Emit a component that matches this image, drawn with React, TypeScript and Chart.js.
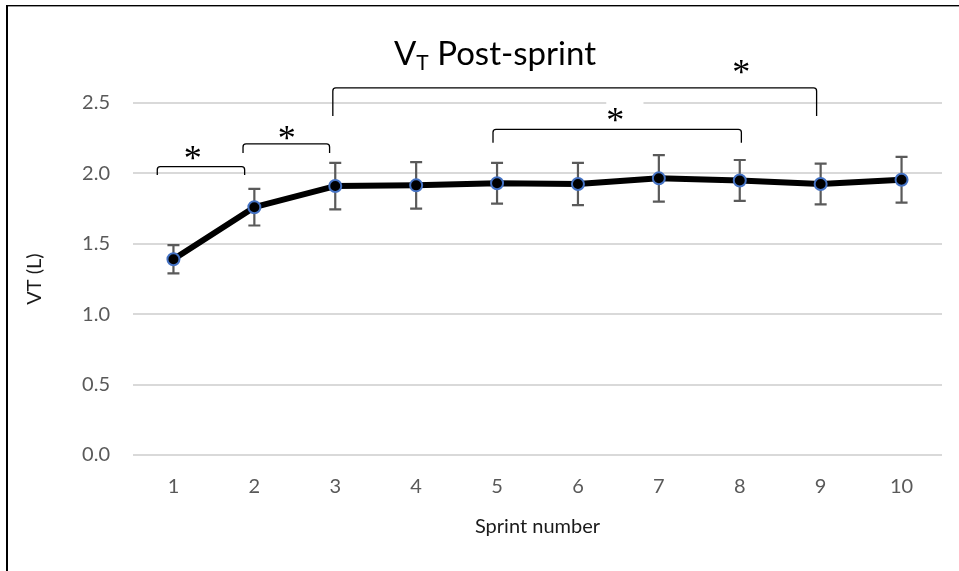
import React, { useEffect, useRef } from 'react';
import { Chart, registerables } from 'chart.js';

Chart.register(...registerables);

// ---- data ----
const sprintLabels = ['1', '2', '3', '4', '5', '6', '7', '8', '9', '10'];
const vtMean = [1.39, 1.76, 1.91, 1.915, 1.93, 1.925, 1.965, 1.95, 1.925, 1.955];
const vtSD = [0.1, 0.13, 0.165, 0.165, 0.145, 0.15, 0.165, 0.145, 0.145, 0.163];
const yMin = 0;
const yMax = 2.5;
const yStep = 0.5;

// ---- significance annotations (x in category-index units, y in litres) ----
const bracketFrom = [-0.2, 0.86, 1.97, 3.95];
const bracketTo = [0.88, 1.93, 7.95, 7.02];
const bracketTop = [2.048, 2.209, 2.607, 2.313];
const bracketEnd = [1.989, 2.145, 2.408, 2.218];
const starX = [0.24, 1.4, 7.02, 5.46];
const starY = [2.145, 2.289, 2.758, 2.415];
const maskFrom = 5.35;
const maskTo = 5.81;

const SANS = 'Lato, "Open Sans", sans-serif';

const errorBarPlugin = {
  id: 'errorBars',
  beforeDatasetsDraw(chart: any) {
    const { ctx, scales } = chart;
    const xs = scales.x;
    const ys = scales.y;
    ctx.save();
    ctx.strokeStyle = '#5a5a5a';
    ctx.lineWidth = 2.2;
    vtMean.forEach((m, i) => {
      const x = xs.getPixelForValue(i);
      const yt = ys.getPixelForValue(m + vtSD[i]);
      const yb = ys.getPixelForValue(m - vtSD[i]);
      ctx.beginPath();
      ctx.moveTo(x, yt);
      ctx.lineTo(x, yb);
      ctx.moveTo(x - 6, yt);
      ctx.lineTo(x + 6, yt);
      ctx.moveTo(x - 6, yb);
      ctx.lineTo(x + 6, yb);
      ctx.stroke();
    });
    ctx.restore();
  },
};

const decorPlugin = {
  id: 'decor',
  beforeDatasetsDraw(chart: any) {
    const { ctx, scales } = chart;
    const xs = scales.x;
    const ys = scales.y;
    // white text-box mask over the top gridline
    ctx.save();
    ctx.fillStyle = '#ffffff';
    const mx1 = xs.getPixelForValue(maskFrom);
    const mx2 = xs.getPixelForValue(maskTo);
    const my = ys.getPixelForValue(yMax);
    ctx.fillRect(mx1, my - 3, mx2 - mx1, 6);
    ctx.restore();
  },
  afterDraw(chart: any) {
    const { ctx, scales, width, height } = chart;
    const xs = scales.x;
    const ys = scales.y;
    ctx.save();

    // brackets
    ctx.strokeStyle = '#000';
    ctx.lineWidth = 1.3;
    bracketFrom.forEach((f, i) => {
      const x1 = xs.getPixelForValue(f);
      const x2 = xs.getPixelForValue(bracketTo[i]);
      const yt = ys.getPixelForValue(bracketTop[i]);
      const ye = ys.getPixelForValue(bracketEnd[i]);
      const r = 3;
      ctx.beginPath();
      ctx.moveTo(x1, ye);
      ctx.lineTo(x1, yt + r);
      ctx.quadraticCurveTo(x1, yt, x1 + r, yt);
      ctx.lineTo(x2 - r, yt);
      ctx.quadraticCurveTo(x2, yt, x2, yt + r);
      ctx.lineTo(x2, ye);
      ctx.stroke();
    });

    // stars
    ctx.fillStyle = '#000';
    ctx.font = '36px "Liberation Serif", "DejaVu Serif", serif';
    ctx.textAlign = 'center';
    ctx.textBaseline = 'alphabetic';
    const mt = ctx.measureText('*');
    const asc = mt.actualBoundingBoxAscent;
    const desc = mt.actualBoundingBoxDescent;
    starX.forEach((sx, i) => {
      const cx = xs.getPixelForValue(sx);
      const cy = ys.getPixelForValue(starY[i]);
      ctx.fillText('*', cx, cy + (asc - desc) / 2);
    });

    // title: V_T Post-sprint
    const mainFont = '33px ' + SANS;
    const subFont = '21px ' + SANS;
    ctx.textAlign = 'left';
    ctx.fillStyle = '#000';
    ctx.font = mainFont;
    const wV = ctx.measureText('V').width;
    const wRest = ctx.measureText(' Post-sprint').width;
    ctx.font = subFont;
    const wT = ctx.measureText('T').width;
    const total = wV + wT + wRest;
    const titleCenter = 495;
    const baseline = 65;
    let tx = titleCenter - total / 2;
    ctx.font = mainFont;
    ctx.fillText('V', tx, baseline);
    tx += wV;
    ctx.font = subFont;
    ctx.fillText('T', tx, baseline + 5);
    tx += wT;
    ctx.font = mainFont;
    ctx.fillText(' Post-sprint', tx, baseline);

    // frame lines
    ctx.fillStyle = '#000';
    ctx.fillRect(6, 5, width - 6, 1.4);
    ctx.fillRect(6, 5, 2, height - 5);
    ctx.restore();
  },
};

export default function App() {
  const ref = useRef<HTMLCanvasElement>(null);

  useEffect(() => {
    document.body.style.margin = '0';
    const canvas = ref.current;
    if (!canvas) return;
    const chart = new Chart(canvas, {
      type: 'line',
      data: {
        labels: sprintLabels,
        datasets: [
          {
            label: 'VT',
            data: vtMean,
            borderColor: '#000000',
            borderWidth: 6,
            borderJoinStyle: 'round',
            borderCapStyle: 'round',
            tension: 0,
            pointRadius: 6,
            pointHoverRadius: 6,
            pointBorderWidth: 2,
            pointBackgroundColor: '#000000',
            pointBorderColor: '#4472C4',
            fill: false,
          },
        ],
      },
      options: {
        responsive: false,
        animation: false,
        devicePixelRatio: 1,
        layout: { padding: { top: 103, right: 17, left: 0, bottom: 0 } },
        plugins: {
          legend: { display: false },
          tooltip: { enabled: false },
          title: { display: false },
        },
        scales: {
          x: {
            type: 'category',
            offset: true,
            grid: { display: false, drawTicks: false },
            border: { display: false },
            ticks: {
              color: '#595959',
              font: { family: SANS, size: 20 },
              padding: 20,
              maxRotation: 0,
              autoSkip: false,
            },
            title: {
              display: true,
              text: 'Sprint number',
              color: '#1a1a1a',
              font: { family: SANS, size: 20 },
              padding: { top: 0, bottom: 32 },
            },
            afterFit(scale: any) {
              scale.height = 116;
            },
          },
          y: {
            min: yMin,
            max: yMax,
            grid: { color: '#d9d9d9', lineWidth: 2, drawTicks: false },
            border: { display: false },
            ticks: {
              stepSize: yStep,
              color: '#595959',
              font: { family: SANS, size: 20 },
              padding: 23,
              callback: (v: any) => Number(v).toFixed(1),
            },
            title: {
              display: true,
              text: 'VT (L)',
              color: '#1a1a1a',
              font: { family: SANS, size: 20 },
              padding: { top: 23, bottom: 0 },
            },
            afterFit(scale: any) {
              scale.width = 133;
            },
          },
        },
      },
      plugins: [errorBarPlugin, decorPlugin],
    } as any);
    return () => chart.destroy();
  }, []);

  return (
    <div style={{ position: 'absolute', left: 0, top: 0, width: 959, height: 571, background: '#ffffff' }}>
      <canvas ref={ref} width={959} height={571} style={{ display: 'block' }} />
    </div>
  );
}
